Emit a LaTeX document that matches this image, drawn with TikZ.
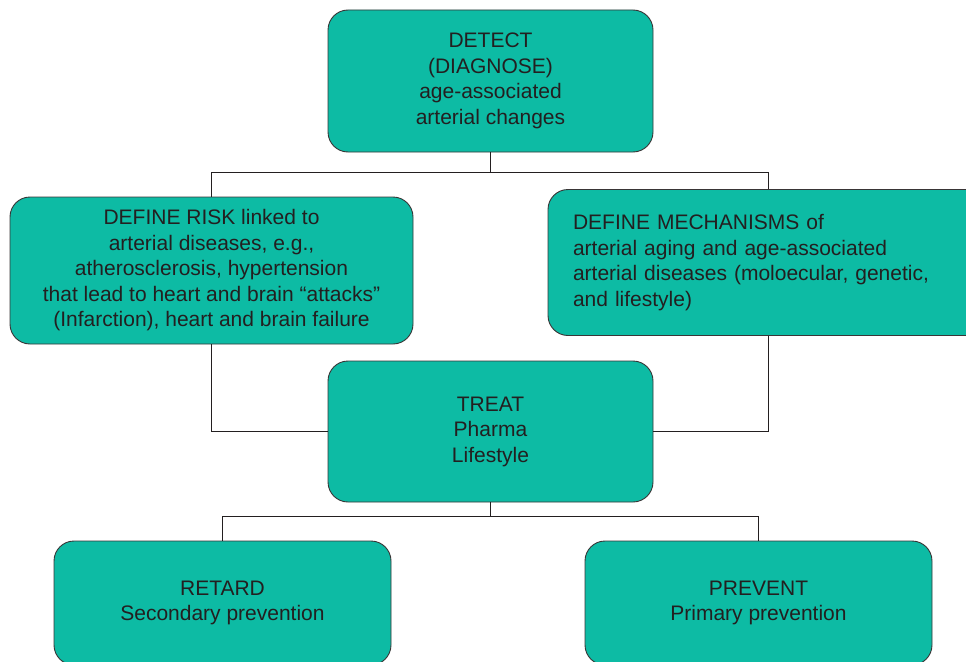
\documentclass[tikz,border=0pt]{standalone}
\usepackage{fontspec}
\setmainfont{Liberation Sans}
\usetikzlibrary{calc}
\definecolor{boxteal}{RGB}{13,187,164}
\definecolor{inkgray}{RGB}{35,31,32}
\tikzset{
	stage/.style={draw=inkgray!90, line width=0.9pt, fill=boxteal, rounded corners=20pt,
		align=center, text=inkgray, inner sep=0pt, font=\fontsize{21}{25.5}\selectfont},
	link/.style={draw=inkgray, line width=0.9pt},
}

\begin{document}
\begin{tikzpicture}[x=1pt,y=-1pt]
	\useasboundingbox (0,0) rectangle (966,661);
	% boxes
	\node[stage, minimum width=325pt, minimum height=142pt] at (490.5,81) (detect)
		{DETECT\\(DIAGNOSE)\\age-associated\\arterial changes};
	\node[stage, minimum width=403pt, minimum height=147pt] at (211.5,270.5) (risk)
		{DEFINE RISK linked to\\arterial diseases, e.g.,\\atherosclerosis, hypertension\\that lead to heart and brain ``attacks''\\(Infarction), heart and brain failure};
	\node[stage, align=left, text width=390pt, minimum width=440pt, minimum height=146pt] at (768,262.5) (mech)
		{DEFINE MECHANISMS of\\arterial aging and age-associated\\arterial diseases (moloecular, genetic,\\and lifestyle)};
	\node[stage, minimum width=325pt, minimum height=141pt] at (490.5,431.5) (treat)
		{TREAT\\Pharma\\Lifestyle};
	\node[stage, minimum width=337pt, minimum height=124pt] at (222.5,603) (retard)
		{RETARD\\Secondary prevention};
	\node[stage, minimum width=347pt, minimum height=124pt] at (758.5,603) (prevent)
		{PREVENT\\Primary prevention};
	% connectors
	\coordinate (top split) at ($(detect.south)+(0,20)$);
	\draw[link] (detect.south) -- (top split) -| (risk.north);
	\draw[link] (top split) -| (mech.north);
	\draw[link] (risk.south) |- (treat.west);
	\draw[link] (mech.south) |- (treat.east);
	\coordinate (low split) at ($(treat.south)+(0,14)$);
	\draw[link] (treat.south) -- (low split) -| (retard.north);
	\draw[link] (low split) -| (prevent.north);
\end{tikzpicture}
\end{document}
